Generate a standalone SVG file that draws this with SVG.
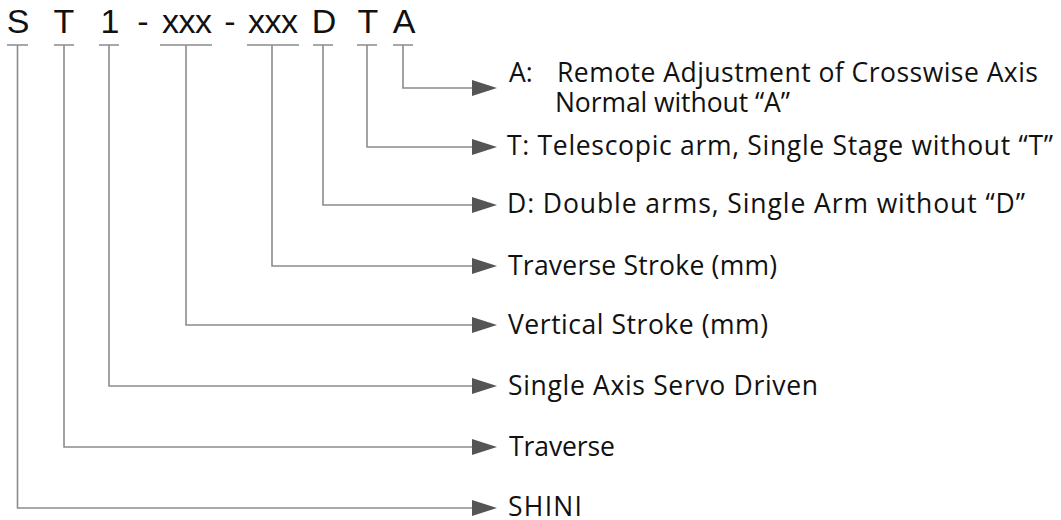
<svg xmlns="http://www.w3.org/2000/svg" width="1061" height="520" viewBox="0 0 1061 520">
<defs>
<style>
.code{font-family:"Liberation Sans","Open Sans",sans-serif;font-size:34px;fill:#111;text-anchor:middle}
.lbl{font-family:"Open Sans","Liberation Sans",sans-serif;font-size:26.5px;fill:#111}
.ln{stroke:#8c8c8c;stroke-width:1.6;fill:none}
.ah{fill:#555}
</style>
</defs>
<rect width="1061" height="520" fill="#fff"/>
<g id="code">
<text class="code" x="18" y="33">S</text>
<text class="code" x="64" y="33">T</text>
<text class="code" x="110" y="33">1</text>
<text class="code" x="143" y="33">-</text>
<text class="code" x="187" y="33" textLength="50">xxx</text>
<text class="code" x="230" y="33">-</text>
<text class="code" x="273" y="33" textLength="50">xxx</text>
<text class="code" x="324" y="33">D</text>
<text class="code" x="368" y="33">T</text>
<text class="code" x="404" y="33">A</text>
</g>
<g id="connectors">
<path class="ln" d="M7 45H28M17.5 45V508H473"/>
<path class="ln" d="M54 45H74M64 45V447H473"/>
<path class="ln" d="M99 45H119M109 45V386H473"/>
<path class="ln" d="M160 45H212M186 45V325H473"/>
<path class="ln" d="M247 45H299M272 45V266H473"/>
<path class="ln" d="M313 45H333M323 45V205H473"/>
<path class="ln" d="M357 45H377M367 45V147H473"/>
<path class="ln" d="M393 45H413M403 45V88H473"/>
<path class="ah" d="M472 80L497 88L472 96Z"/>
<path class="ah" d="M472 139L497 147L472 155Z"/>
<path class="ah" d="M472 197L497 205L472 213Z"/>
<path class="ah" d="M472 258L497 266L472 274Z"/>
<path class="ah" d="M472 317L497 325L472 333Z"/>
<path class="ah" d="M472 378L497 386L472 394Z"/>
<path class="ah" d="M472 439L497 447L472 455Z"/>
<path class="ah" d="M472 500L497 508L472 516Z"/>
</g>
<g id="label-A">
<text class="lbl" x="509" y="82">A:</text>
<text class="lbl" x="557" y="82" textLength="481">Remote Adjustment of Crosswise Axis</text>
<text class="lbl" x="555" y="112" textLength="235">Normal without “A”</text>
</g>
<g id="label-T">
<text class="lbl" x="507" y="155" textLength="546">T: Telescopic arm, Single Stage without “T”</text>
</g>
<g id="label-D">
<text class="lbl" x="507" y="213" textLength="518">D: Double arms, Single Arm without “D”</text>
</g>
<g id="label-traverse-stroke">
<text class="lbl" x="508" y="275" textLength="269">Traverse Stroke (mm)</text>
</g>
<g id="label-vertical-stroke">
<text class="lbl" x="508" y="334" textLength="260">Vertical Stroke (mm)</text>
</g>
<g id="label-single-axis">
<text class="lbl" x="508" y="395" textLength="310">Single Axis Servo Driven</text>
</g>
<g id="label-traverse">
<text class="lbl" x="509" y="456" textLength="106">Traverse</text>
</g>
<g id="label-shini">
<text class="lbl" x="508" y="516" textLength="74">SHINI</text>
</g>
</svg>
